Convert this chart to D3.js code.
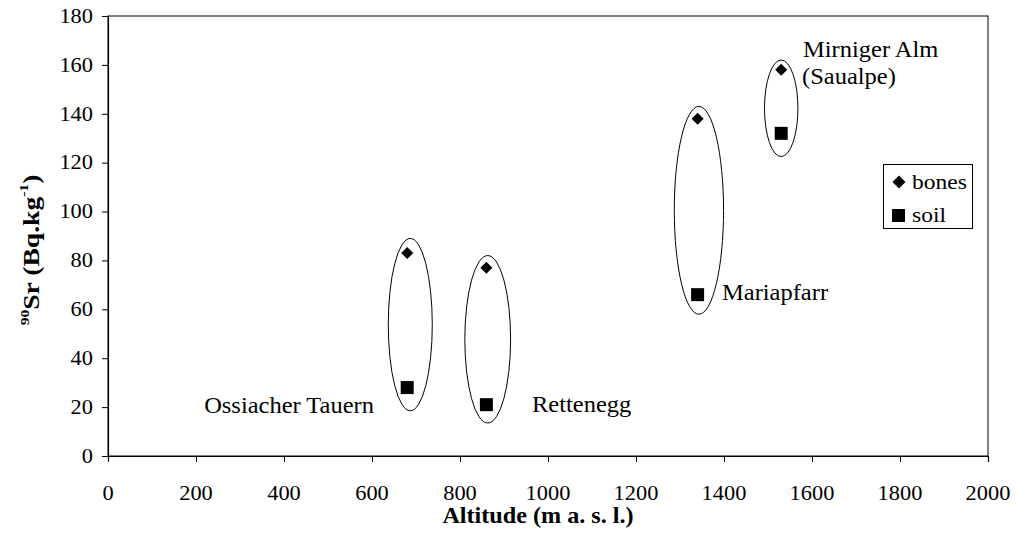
<!DOCTYPE html>
<html>
<head>
<meta charset="utf-8">
<script src="https://cdn.jsdelivr.net/npm/d3@7"></script>
<style>
  html, body { margin: 0; padding: 0; background: #fff; }
  text { font-family: "Liberation Serif", "Times New Roman", serif; fill: #000; }
</style>
</head>
<body>
<svg id="chart" width="1017" height="540"></svg>
<script>
// Sampling sites: altitude (m a.s.l.) and 90Sr activity in bones and soil
const sites = ["Ossiacher Tauern", "Rettenegg", "Mariapfarr", "Mirniger Alm"];
const altitude = [680, 860, 1340, 1530];
const bones = [83, 77, 138, 158];
const soil = [28, 21, 66, 132];

// Ellipses grouping each site's pair of samples (centre altitude, half-width in m, low/high Bq.kg-1)
const ringCentre = [687, 863, 1343, 1530];
const ringHalfWidth = [50, 52, 56, 38];
const ringLow = [18.5, 13.5, 58, 122.5];
const ringHigh = [89, 82, 143, 162];

const xTicks = [0, 200, 400, 600, 800, 1000, 1200, 1400, 1600, 1800, 2000];
const yTicks = [0, 20, 40, 60, 80, 100, 120, 140, 160, 180];

const svg = d3.select("#chart");
const plotLeft = 108, plotRight = 988, plotTop = 16, plotBottom = 456;

const x = d3.scaleLinear().domain([0, 2000]).range([plotLeft, plotRight]);
const y = d3.scaleLinear().domain([0, 180]).range([plotBottom, plotTop]);

// lettering is slightly wide relative to its height
function stretchedText(g, tx, ty, str, opts) {
  const o = Object.assign({ size: 23, sx: 1.065, anchor: "start", weight: null }, opts);
  const t = g.append("text")
    .attr("transform", `translate(${tx},${ty}) scale(${o.sx},1)`)
    .attr("text-anchor", o.anchor)
    .attr("font-size", o.size)
    .text(str);
  if (o.weight) t.attr("font-weight", o.weight);
  return t;
}

// plot frame
svg.append("rect")
  .attr("x", plotLeft).attr("y", plotTop)
  .attr("width", plotRight - plotLeft).attr("height", plotBottom - plotTop)
  .attr("fill", "none").attr("stroke", "#000").attr("stroke-width", 1);

// axes
const xAxis = svg.append("g")
  .attr("transform", `translate(0,${plotBottom})`)
  .call(d3.axisBottom(x).tickValues(xTicks).tickSize(6).tickFormat(""));
const yAxis = svg.append("g")
  .attr("transform", `translate(${plotLeft},0)`)
  .call(d3.axisLeft(y).tickValues(yTicks).tickSize(6).tickFormat(""));
[xAxis, yAxis].forEach(a => {
  a.select(".domain").attr("stroke", "#000").attr("stroke-width", 1.2);
  a.selectAll(".tick line").attr("stroke", "#000").attr("stroke-width", 1);
});

const labels = svg.append("g");
const tickStyle = { size: 20, sx: 1.12 };
xTicks.forEach(v => stretchedText(labels, x(v), 500, String(v), Object.assign({ anchor: "middle" }, tickStyle)));
yTicks.forEach(v => stretchedText(labels, 93, y(v) + 6.8, String(v), Object.assign({ anchor: "end" }, tickStyle)));

// axis titles
stretchedText(svg, 538, 523, "Altitude (m a. s. l.)", { anchor: "middle", weight: "bold", sx: 1.05 });

const yt = svg.append("text")
  .attr("transform", `translate(38.5,250) rotate(-90) scale(1.2,1)`)
  .attr("text-anchor", "middle")
  .attr("font-size", 23)
  .attr("font-weight", "bold");
yt.append("tspan").attr("font-size", 13).attr("dy", -10).text("90");
yt.append("tspan").attr("dy", 10).text("Sr (Bq.kg");
yt.append("tspan").attr("font-size", 13).attr("dy", -11).text("-1");
yt.append("tspan").attr("dy", 11).text(")");

// grouping ellipses
svg.append("g").selectAll("ellipse")
  .data(d3.range(sites.length))
  .join("ellipse")
  .attr("cx", i => x(ringCentre[i]))
  .attr("cy", i => (y(ringLow[i]) + y(ringHigh[i])) / 2)
  .attr("rx", i => x(ringHalfWidth[i]) - x(0))
  .attr("ry", i => (y(ringLow[i]) - y(ringHigh[i])) / 2)
  .attr("fill", "none").attr("stroke", "#000").attr("stroke-width", 1);

// bones: diamonds (squares turned 45 degrees)
const diamond = d3.symbol().type(d3.symbolSquare).size(72);
svg.append("g").selectAll("path")
  .data(d3.range(sites.length))
  .join("path")
  .attr("d", diamond)
  .attr("transform", i => `translate(${x(altitude[i])},${y(bones[i])}) rotate(45)`)
  .attr("fill", "#000");

// soil: squares
const square = d3.symbol().type(d3.symbolSquare).size(169);
svg.append("g").selectAll("path")
  .data(d3.range(sites.length))
  .join("path")
  .attr("d", square)
  .attr("transform", i => `translate(${x(altitude[i])},${y(soil[i])})`)
  .attr("fill", "#000");

// site names
const names = svg.append("g");
stretchedText(names, 374, 413, "Ossiacher Tauern", { anchor: "end" });
stretchedText(names, 532, 412, "Rettenegg");
stretchedText(names, 722, 300, "Mariapfarr");
stretchedText(names, 803, 57, "Mirniger Alm");
stretchedText(names, 802, 84, "(Saualpe)");

// legend
const lg = svg.append("g");
lg.append("rect")
  .attr("x", 883.5).attr("y", 164.5).attr("width", 89).attr("height", 64)
  .attr("fill", "#fff").attr("stroke", "#000").attr("stroke-width", 1);
lg.append("path").attr("d", d3.symbol().type(d3.symbolSquare).size(84))
  .attr("transform", "translate(899,182) rotate(45)").attr("fill", "#000");
lg.append("path").attr("d", d3.symbol().type(d3.symbolSquare).size(169))
  .attr("transform", "translate(898.5,215.5)").attr("fill", "#000");
stretchedText(lg, 912, 189, "bones", { size: 21, sx: 1.12 });
stretchedText(lg, 912, 222, "soil", { size: 21, sx: 1.12 });
</script>
</body>
</html>
